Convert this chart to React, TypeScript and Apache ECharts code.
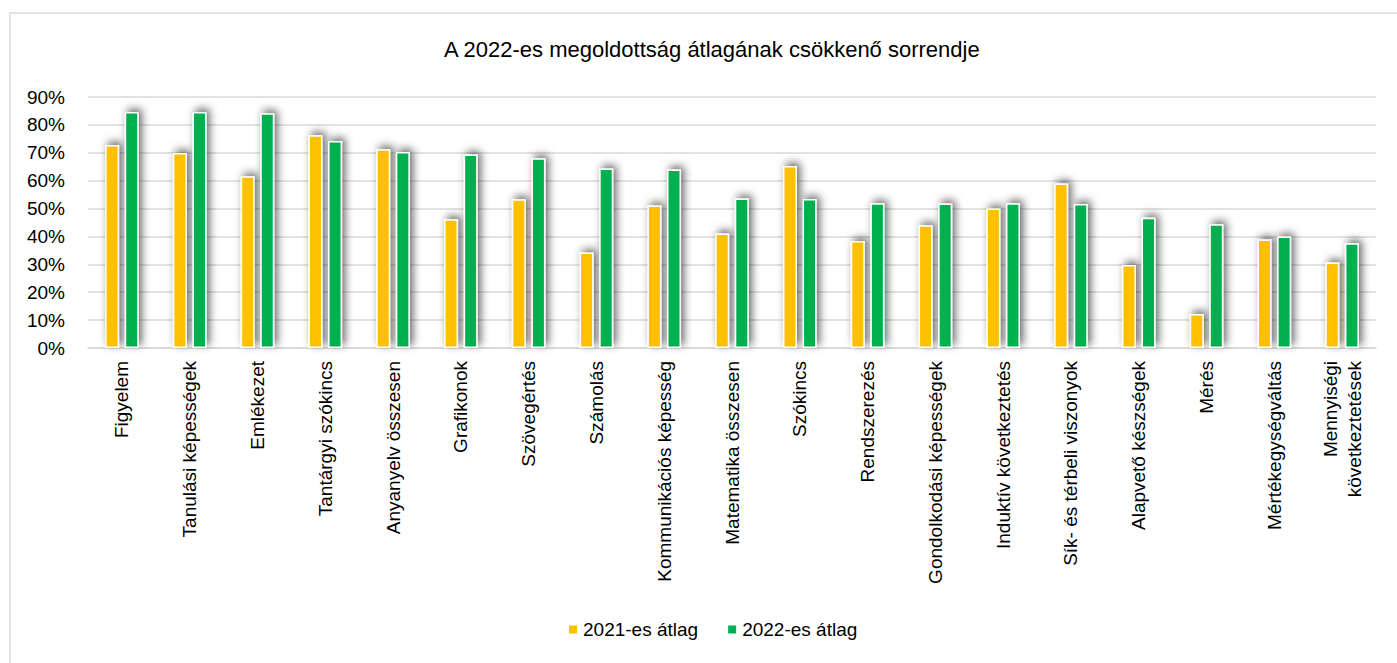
import React, { useEffect, useRef } from "react";
import * as echarts from "echarts";

const categories = [
  "Figyelem",
  "Tanulási képességek",
  "Emlékezet",
  "Tantárgyi szókincs",
  "Anyanyelv összesen",
  "Grafikonok",
  "Szövegértés",
  "Számolás",
  "Kommunikációs képesség",
  "Matematika összesen",
  "Szókincs",
  "Rendszerezés",
  "Gondolkodási képességek",
  "Induktív következtetés",
  "Sík- és térbeli viszonyok",
  "Alapvető készségek",
  "Mérés",
  "Mértékegységváltás",
  "Mennyiségi\nkövetkeztetések",
];

const avg2021 = [72.8, 69.9, 61.6, 76.3, 71.3, 46.2, 53.3, 34.2, 51.1, 41.1, 65.3, 38.4, 44.0, 50.0, 59.0, 29.8, 12.2, 38.9, 30.7];
const avg2022 = [84.6, 84.6, 84.2, 74.2, 70.3, 69.4, 68.0, 64.4, 64.0, 53.6, 53.4, 51.9, 51.8, 51.9, 51.6, 46.7, 44.4, 40.0, 37.6];

const seriesNames = ["2021-es átlag", "2022-es átlag"];
const titleText = "A 2022-es megoldottság átlagának csökkenő sorrendje";

const FONT = "'Liberation Sans', Arial, sans-serif";

export default function App() {
  const ref = useRef<HTMLDivElement>(null);
  useEffect(() => {
    if (!ref.current) return;
    const chart = echarts.init(ref.current, undefined, { renderer: "svg" });
    const barStyle = (color: string) => ({
      color,
      borderColor: "#ffffff",
      borderWidth: 1.5,
      shadowBlur: 9,
      shadowColor: "rgba(0,0,0,0.6)",
      shadowOffsetX: 3,
      shadowOffsetY: -3,
    });
    chart.setOption({
      animation: false,
      backgroundColor: "#ffffff",
      textStyle: { fontFamily: FONT },
      title: {
        text: titleText,
        left: 439,
        top: 33,
        textStyle: { fontFamily: FONT, fontSize: 22, fontWeight: "normal", color: "#000" },
      },
      graphic: [
        {
          type: "rect",
          shape: { x: 10, y: 13, width: 1500, height: 800 },
          style: { fill: "none", stroke: "#d9d9d9", lineWidth: 1.5 },
          silent: true,
        },
      ],
      legend: {
        data: seriesNames,
        bottom: 19,
        left: 562,
        itemWidth: 10,
        itemHeight: 10,
        itemGap: 28,
        icon: "rect",
        textStyle: { fontFamily: FONT, fontSize: 19, color: "#000" },
      },
      grid: { left: 88, right: 21, top: 97, bottom: 315, containLabel: false },
      xAxis: {
        type: "category",
        data: categories,
        axisTick: { show: false },
        axisLine: { lineStyle: { color: "#d9d9d9", width: 1.5 } },
        axisLabel: {
          rotate: 90,
          interval: 0,
          margin: 13,
          fontFamily: FONT,
          fontSize: 19,
          color: "#000",
          lineHeight: 24,
        },
      },
      yAxis: {
        type: "value",
        min: 0,
        max: 90,
        interval: 10,
        axisLine: { show: false },
        axisTick: { show: false },
        splitLine: { lineStyle: { color: "#d9d9d9", width: 1.5 } },
        axisLabel: {
          formatter: "{value}%",
          fontFamily: FONT,
          fontSize: 19,
          color: "#000",
          margin: 23,
        },
      },
      series: [
        {
          name: seriesNames[0],
          type: "bar",
          data: avg2021,
          barWidth: 14,
          barGap: "40%",
          itemStyle: barStyle("#FFC000"),
        },
        {
          name: seriesNames[1],
          type: "bar",
          data: avg2022,
          barWidth: 14,
          barGap: "40%",
          itemStyle: barStyle("#00B050"),
        },
      ],
    });
    return () => chart.dispose();
  }, []);
  return (
    <div
      ref={ref}
      style={{ position: "absolute", left: 0, top: 0, width: 1397, height: 663 }}
    />
  );
}
